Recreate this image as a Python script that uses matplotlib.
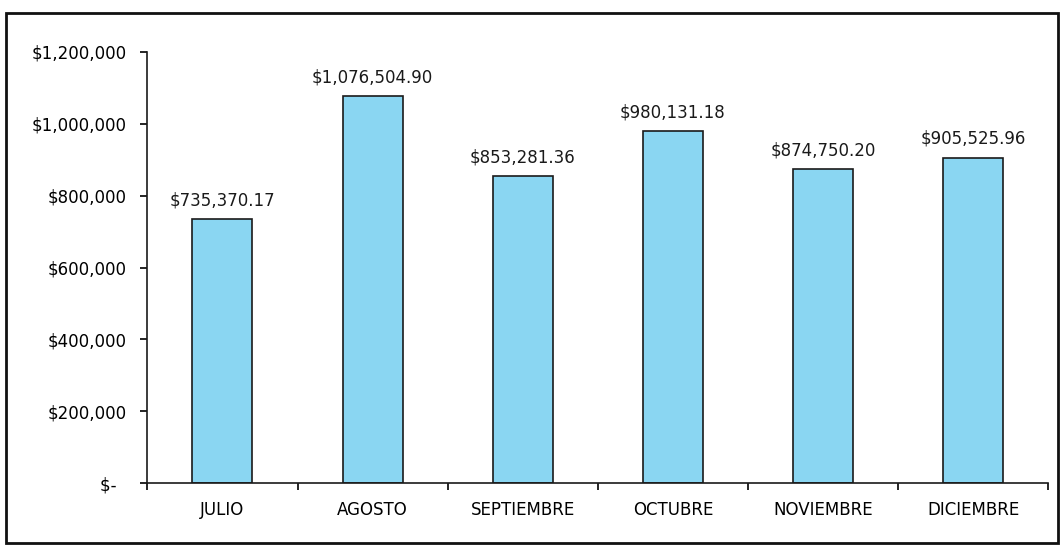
import matplotlib
matplotlib.use('Agg')
import matplotlib.pyplot as plt
from matplotlib.patches import Rectangle
from matplotlib.ticker import FuncFormatter, FixedLocator

meses = ['JULIO', 'AGOSTO', 'SEPTIEMBRE', 'OCTUBRE', 'NOVIEMBRE', 'DICIEMBRE']
montos = [735370.17, 1076504.90, 853281.36, 980131.18, 874750.20, 905525.96]
etiquetas = ['$735,370.17', '$1,076,504.90', '$853,281.36', '$980,131.18', '$874,750.20', '$905,525.96']

plt.rcParams['font.family'] = ['DejaVu Sans']

fig = plt.figure(figsize=(10.6, 5.46), dpi=100)
ax = fig.add_axes([0.139, 0.115, 0.850, 0.790])

x = list(range(len(meses)))
ax.bar(x, montos, width=0.4, color='#8ad6f2', edgecolor='#1a1a1a', linewidth=1.2)

# value labels above each bar
for xi, v, t in zip(x, montos, etiquetas):
    ax.annotate(t, (xi, v), xytext=(0, 7), textcoords='offset points',
                ha='center', va='bottom', fontsize=12, color='#1a1a1a')

ax.set_xlim(-0.5, len(meses) - 0.5)
ax.set_ylim(0, 1200000)
ax.set_yticks(range(0, 1200001, 200000))
ax.yaxis.set_major_formatter(FuncFormatter(lambda v, p: '$-  ' if v == 0 else '${:,.0f}'.format(v)))

# ticks at category boundaries, labels at centers
ax.xaxis.set_major_locator(FixedLocator([i - 0.5 for i in range(len(meses) + 1)]))
ax.xaxis.set_minor_locator(FixedLocator(x))
ax.set_xticklabels([''] * (len(meses) + 1))
ax.set_xticklabels(meses, minor=True)
ax.tick_params(axis='x', which='minor', length=0, pad=13, labelsize=12)
ax.tick_params(axis='x', which='major', length=5, width=1.2, direction='out')
ax.tick_params(axis='y', length=5, width=1.2, labelsize=12, pad=10)

for s in ['top', 'right']:
    ax.spines[s].set_visible(False)
for s in ['left', 'bottom']:
    ax.spines[s].set_linewidth(1.2)
    ax.spines[s].set_color('#1a1a1a')

# outer frame
fig.patches.append(Rectangle((0.006, 0.006), 0.992, 0.971, transform=fig.transFigure,
                             fill=False, edgecolor='#111111', linewidth=2))

fig.savefig('out.png', dpi=100)
